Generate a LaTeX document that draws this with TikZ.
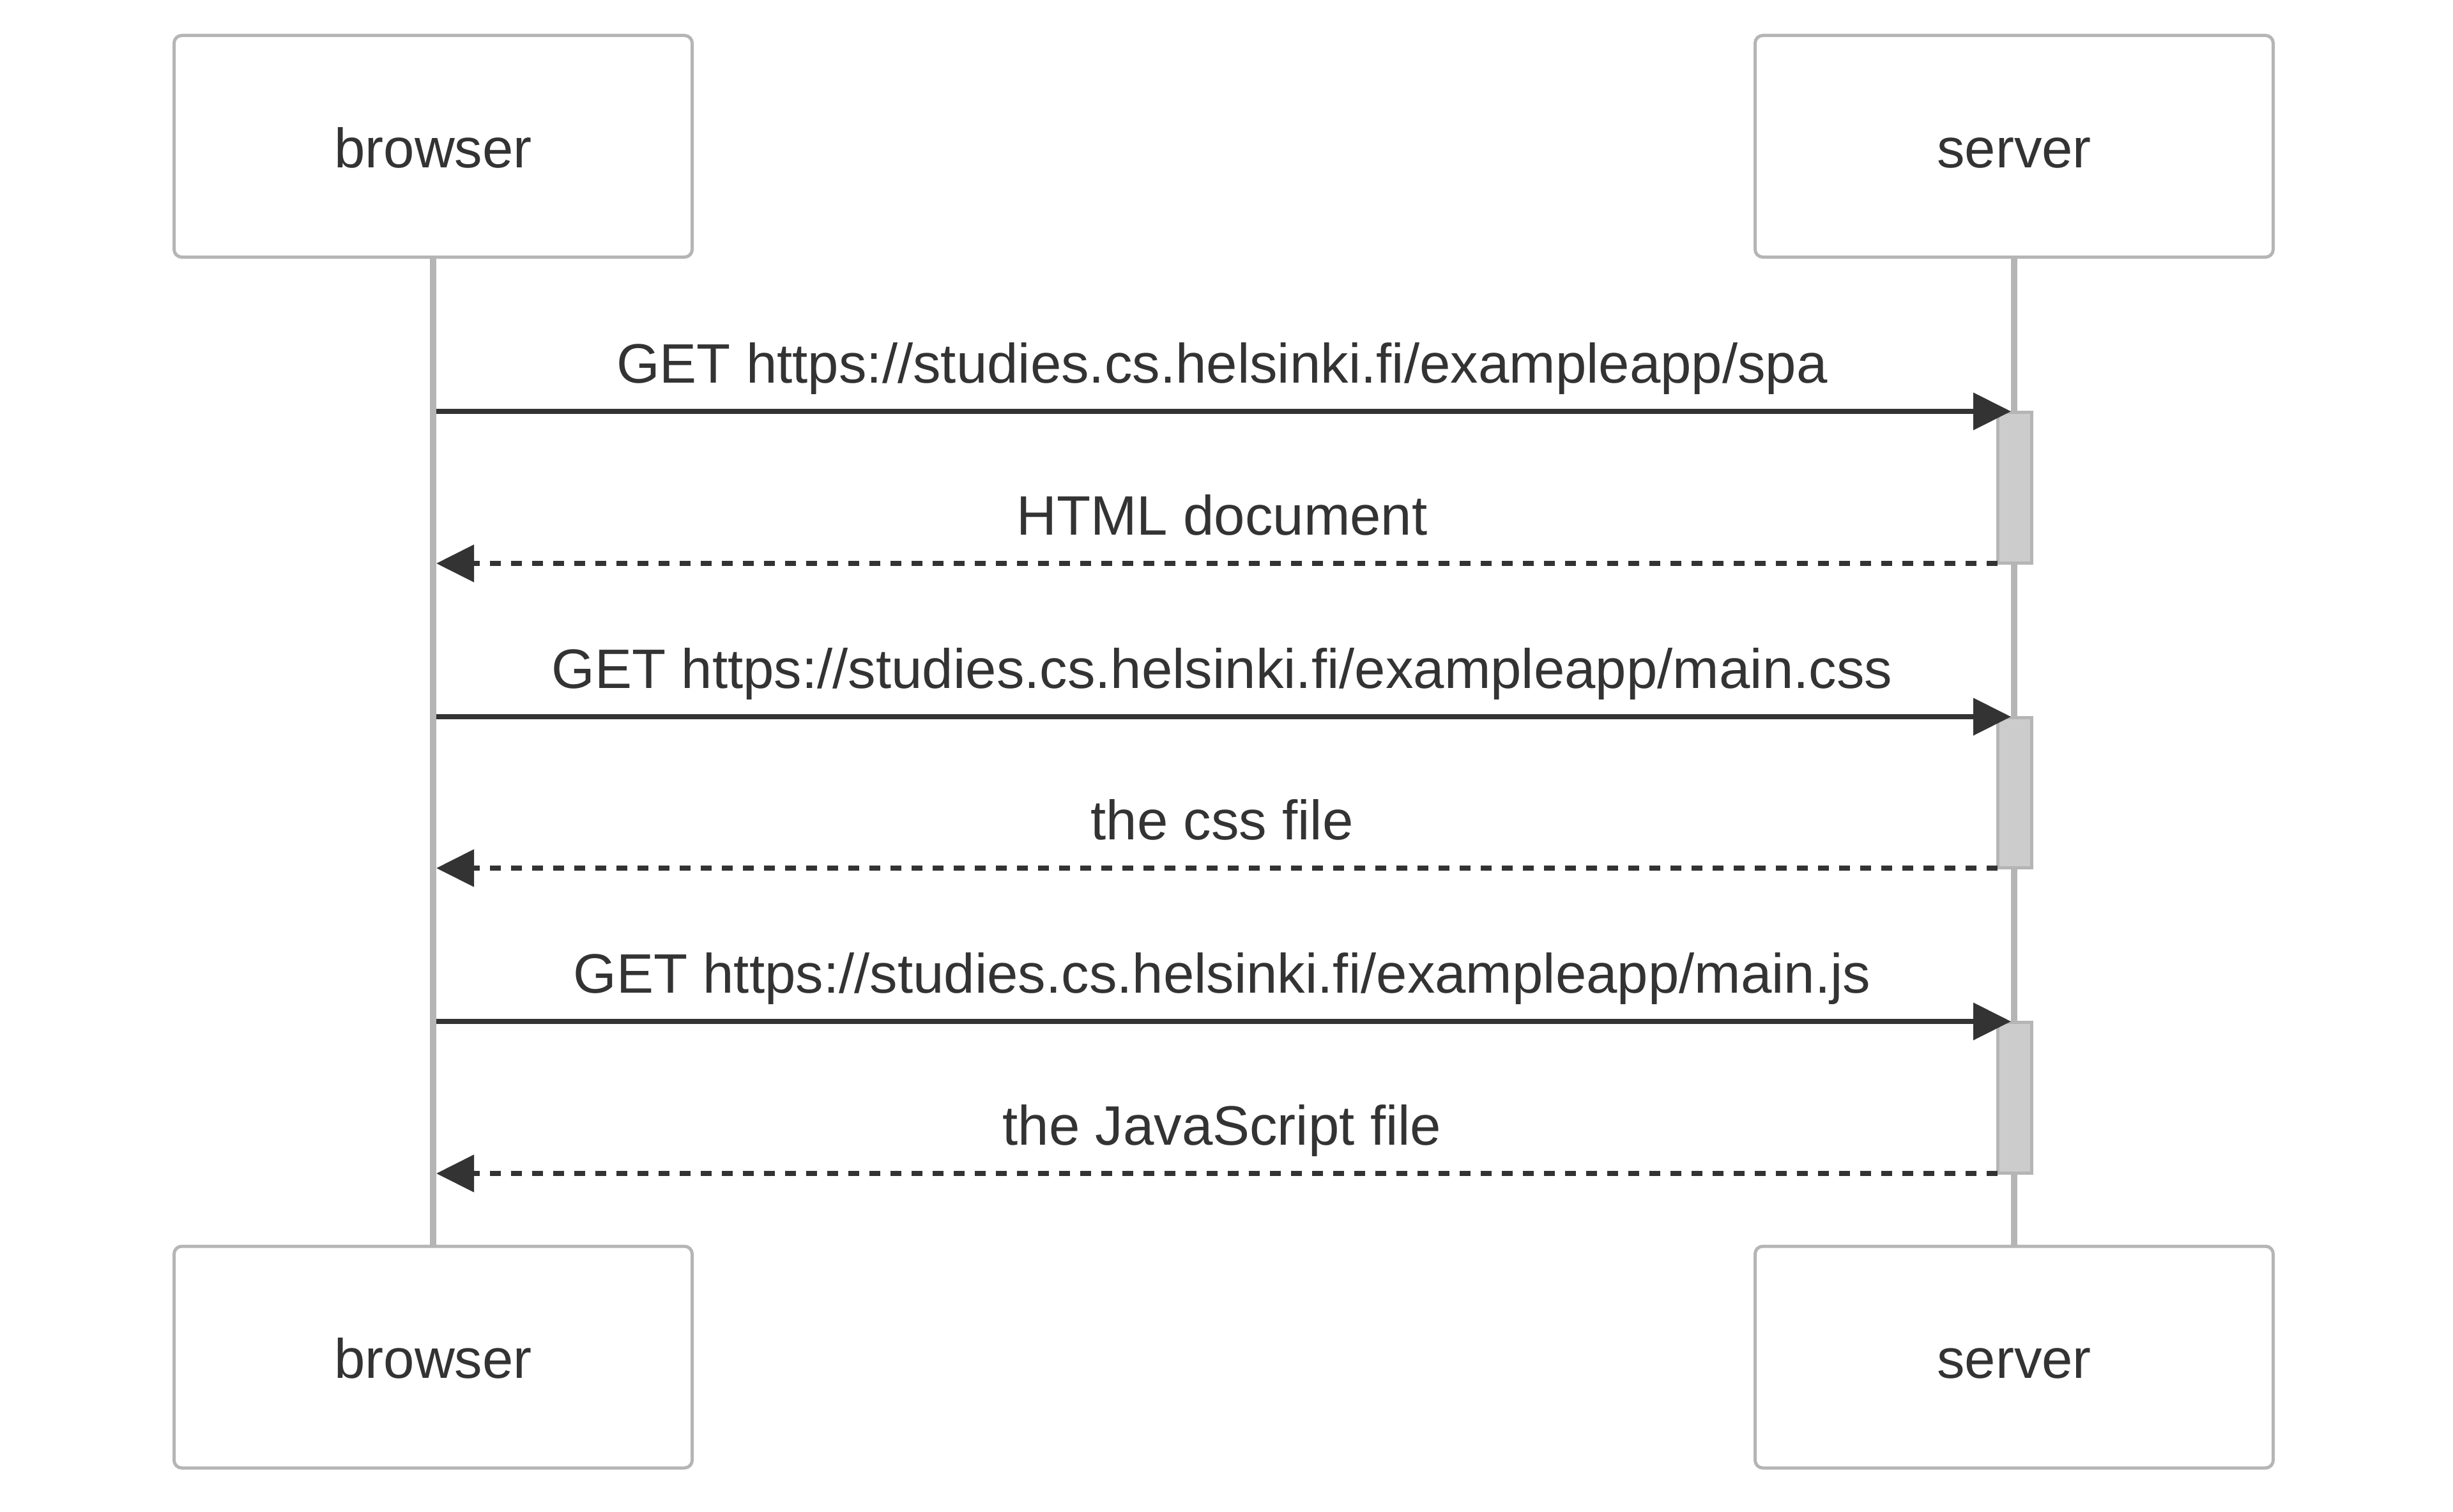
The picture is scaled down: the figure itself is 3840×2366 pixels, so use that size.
\documentclass[tikz,border=0pt]{standalone}
\usepackage{fontspec}
\setmainfont{Liberation Sans}[Ligatures={NoCommon}]
\usetikzlibrary{arrows.meta}
\definecolor{linegray}{HTML}{B5B5B5}
\definecolor{actfill}{HTML}{CCCCCC}
\definecolor{ink}{HTML}{333333}
\begin{document}
\begin{tikzpicture}[x=1pt,y=-1pt,
  actor/.style={draw=linegray, line width=5pt, rounded corners=12pt, fill=white,
    minimum width=811pt, minimum height=347pt, inner sep=0pt,
    text height=66pt, text depth=0pt, text=ink, font=\fontsize{87}{100}\selectfont},
  lifeline/.style={draw=linegray, line width=10pt},
  activation/.style={draw=linegray, fill=actfill, line width=5pt,
    minimum width=53pt, inner sep=0pt},
  req/.style={draw=ink, line width=8pt, -{Triangle[length=59pt,width=57pt]}},
  resp/.style={draw=ink, line width=8pt, dash pattern=on 17pt off 16pt,
    -{Triangle[length=59pt,width=57pt]}},
  msg/.style={anchor=base, inner sep=0pt, text=ink, font=\fontsize{87}{100}\selectfont}]
\useasboundingbox (0,0) rectangle (3840,2366);
\fill[white] (0,0) rectangle (3840,2366);

% actors
\node[actor] (bt) at (678,229) {browser};
\node[actor] (st) at (3153,229) {server};
\node[actor] (bb) at (678,2124.5) {browser};
\node[actor] (sb) at (3153,2124.5) {server};

% lifelines
\draw[lifeline] (bt.south) -- (bb.north);
\draw[lifeline] (st.south) -- (sb.north);

% activation boxes
\node[activation, minimum height=236pt] (a1) at (3154,763) {};
\node[activation, minimum height=235pt] (a2) at (3154,1240.5) {};
\node[activation, minimum height=236pt] (a3) at (3154,1718) {};

% connector end points
\coordinate (b1) at (683,644);
\coordinate (s1) at (3148,644);
\coordinate (r1) at (3127,882);
\coordinate (c1) at (683,882);
\coordinate (b2) at (683,1122);
\coordinate (s2) at (3148,1122);
\coordinate (r2) at (3127,1359);
\coordinate (c2) at (683,1359);
\coordinate (b3) at (683,1599);
\coordinate (s3) at (3148,1599);
\coordinate (r3) at (3127,1837);
\coordinate (c3) at (683,1837);

% messages
\draw[req] (b1) -- (s1);
\node[msg] (m1) at (1913,599) {GET https://studies.cs.helsinki.fi/exampleapp/spa};
\draw[resp] (r1) -- (c1);
\node[msg] (m2) at (1913,837) {HTML document};
\draw[req] (b2) -- (s2);
\node[msg] (m3) at (1913,1077) {GET https://studies.cs.helsinki.fi/exampleapp/main.css};
\draw[resp] (r2) -- (c2);
\node[msg] (m4) at (1913,1314) {the css file};
\draw[req] (b3) -- (s3);
\node[msg] (m5) at (1913,1554) {GET https://studies.cs.helsinki.fi/exampleapp/main.js};
\draw[resp] (r3) -- (c3);
\node[msg] (m6) at (1913,1792) {the JavaScript file};
\end{tikzpicture}
\end{document}
